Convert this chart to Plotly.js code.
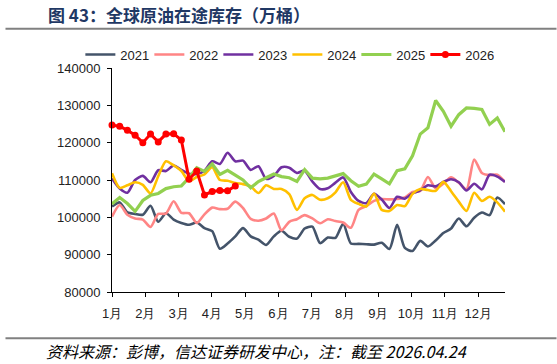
<!DOCTYPE html>
<html>
<head>
<meta charset="utf-8">
<script src="https://cdn.plot.ly/plotly-3.0.1.min.js"></script>
<style>
  html, body { margin: 0; padding: 0; background: #fff; }
  #chart { width: 557px; height: 364px; }
</style>
</head>
<body>
<div id="chart"></div>
<script>
// Weekly in-transit crude inventory (10k barrels), week index 0..51
const monthLabels = ['1月','2月','3月','4月','5月','6月','7月','8月','9月','10月','11月','12月'];

const y2021 = [102900,104000,101300,100900,100700,103100,98800,101100,99400,98500,
               98000,98600,97100,96300,91600,93000,94900,97100,94900,94000,
               92600,94900,96400,94800,94300,97000,97500,93100,94600,94500,
               98300,93000,92900,92800,92700,93200,91500,98000,91800,91000,
               93700,92200,93800,95800,97000,99700,97600,99900,101300,100600,
               105300,103500];

const y2022 = [100200,103300,100700,99700,99400,97400,100900,101000,104300,101200,
               101100,98500,100800,102600,102200,102300,104200,102500,99600,99100,
               99700,101000,96500,98800,99500,100600,99700,98400,99500,99000,
               98600,97200,102000,103000,104400,104900,104800,104900,105300,106800,
               107100,110800,107800,109000,110700,109300,107500,115500,111900,111300,
               111400,109500];

const y2023 = [110400,107700,106600,110000,111100,109400,112600,112400,113900,112700,
               111700,111600,112500,115000,114300,117300,115000,115200,112700,113700,
               110300,111100,113400,113300,111900,112500,109600,107600,107800,109300,
               110700,106800,104400,103800,106300,104800,102500,105500,105000,106400,
               107200,108600,108300,109500,110200,109400,107200,109000,107500,111400,
               110900,109500];

const y2024 = [111800,107900,108600,109400,108700,106400,111000,115000,113900,112400,
               109700,110800,111500,113400,110000,109800,109200,108900,108300,106500,
               108600,107600,107600,106200,102000,105100,106000,104700,105100,106700,
               109400,104700,103600,102900,106400,102000,101700,103300,103000,106300,
               107600,107300,107100,109500,107000,104200,101700,106600,104400,105500,
               104000,101500];

const y2025 = [103600,105300,103700,101600,104500,105900,106400,107700,108200,108400,
               110600,113300,112300,114300,111500,112600,111300,110000,107900,109600,
               110600,111600,110900,110600,109600,112800,110500,110300,110500,111200,
               111700,109800,108300,108900,111600,110300,109000,112500,113000,116500,
               122300,124000,131300,128400,124400,127500,129300,129200,128900,124900,
               126600,122900];

const y2026 = [124700,124400,123300,122000,120000,122300,120200,122300,122400,120700,
               110200,112400,106000,106900,107200,107100,108400];

const weeks = n => Array.from({length: n}, (_, i) => i);
const monthTicks = monthLabels.map((_, k) => k * 4.32);

const smooth = {shape: 'spline', smoothing: 0.7};

const traces = [
  {name: '2021', y: y2021, color: '#44546A', width: 2.6, spline: true},
  {name: '2022', y: y2022, color: '#FF8585', width: 2.6, spline: true},
  {name: '2023', y: y2023, color: '#7030A0', width: 2.6, spline: true},
  {name: '2024', y: y2024, color: '#FFC000', width: 2.6, spline: true},
  {name: '2025', y: y2025, color: '#92D050', width: 3.2, spline: false}
].map(s => ({
  type: 'scatter', mode: 'lines', name: s.name,
  x: weeks(s.y.length), y: s.y,
  line: Object.assign({color: s.color, width: s.width}, s.spline ? smooth : {shape: 'linear'})
}));

traces.push({
  type: 'scatter', mode: 'lines+markers', name: '2026',
  x: weeks(y2026.length), y: y2026,
  line: {color: '#FF0000', width: 3},
  marker: {color: '#FF0000', size: 7, symbol: 'circle'},
  cliponaxis: false
});

const axisFont = {family: 'Liberation Sans, Arial, sans-serif', size: 13, color: '#222'};

const layout = {
  width: 557, height: 364,
  margin: {l: 111.7, r: 51.6, t: 67.5, b: 71.5, pad: 0},
  paper_bgcolor: '#fff', plot_bgcolor: '#fff',
  title: {
    text: '图 43：全球原油在途库存（万桶）',
    xref: 'container', yref: 'container',
    x: 48 / 557, xanchor: 'left', y: 1 - 16 / 364, yanchor: 'middle',
    font: {family: 'Noto Sans CJK SC, sans-serif', size: 17, weight: 'bold', color: '#1F3864'}
  },
  showlegend: true,
  legend: {
    orientation: 'h', x: -0.0805, xanchor: 'left', y: 1.06, yanchor: 'middle',
    font: {family: 'Liberation Sans, Arial, sans-serif', size: 13, color: '#222'},
    itemwidth: 30, entrywidth: 24, tracegroupgap: 0,
    bgcolor: 'rgba(0,0,0,0)'
  },
  xaxis: {
    range: [0, 51], showgrid: false, zeroline: false,
    showline: true, linecolor: '#000', linewidth: 1,
    ticks: 'outside', ticklen: 4, tickcolor: '#000', tickwidth: 1,
    tickvals: monthTicks, ticktext: monthLabels,
    tickfont: axisFont, ticklabelstandoff: 5
  },
  yaxis: {
    range: [80000, 140000], showgrid: false, zeroline: false,
    showline: true, linecolor: '#000', linewidth: 1,
    ticks: 'outside', ticklen: 4, tickcolor: '#000', tickwidth: 1,
    tickvals: [80000, 90000, 100000, 110000, 120000, 130000, 140000],
    ticktext: ['80000','90000','100000','110000','120000','130000','140000'],
    tickfont: axisFont, ticklabelstandoff: 4
  },
  shapes: [
    {type: 'line', xref: 'paper', yref: 'paper',
     x0: (5 - 111.7) / 393.7, x1: (557 - 111.7) / 393.7,
     y0: 1 + (67.5 - 28) / 225, y1: 1 + (67.5 - 28) / 225,
     line: {color: '#808080', width: 2}},
    {type: 'line', xref: 'paper', yref: 'paper',
     x0: (5 - 111.7) / 393.7, x1: (557 - 111.7) / 393.7,
     y0: -(339 - 292.5) / 225, y1: -(339 - 292.5) / 225,
     line: {color: '#808080', width: 2}}
  ],
  annotations: [
    {xref: 'paper', yref: 'paper', xanchor: 'left', yanchor: 'middle', align: 'left',
     x: (44 - 111.7) / 393.7, y: -(352 - 292.5) / 225, showarrow: false,
     text: '<i>资料来源：彭博，信达证券研发中心，注：截至 2026.04.24</i>',
     font: {family: 'Noto Sans CJK SC, sans-serif', size: 16, color: '#000'}}
  ]
};

Plotly.newPlot('chart', traces, layout, {staticPlot: true, displayModeBar: false});
</script>
</body>
</html>
